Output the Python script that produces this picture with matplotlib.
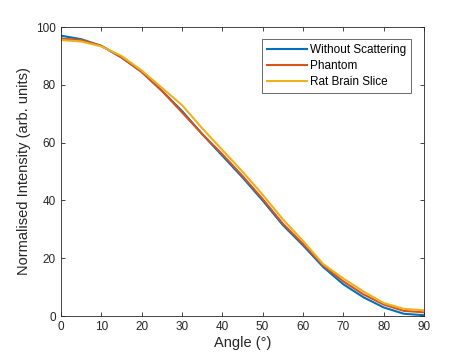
import matplotlib
matplotlib.use("Agg")
import matplotlib.pyplot as plt

angles = [0, 5, 10, 15, 20, 25, 30, 35, 40, 45, 50, 55, 60, 65, 70, 75, 80, 85, 90]
without_scattering = [97, 95.8, 93.5, 89.5, 84.5, 78, 71, 63, 55.5, 48, 40, 31.5, 24.5, 17, 11, 6.5, 3, 0.8, 0.3]
phantom = [96, 95.5, 93.5, 89.5, 84.5, 78, 70.5, 63, 56, 48.5, 40.5, 32, 25, 17.5, 12, 7.5, 4, 1.8, 1.3]
rat_brain = [95.5, 95, 93.3, 90, 85, 79, 73, 65, 57.5, 50, 42, 33.5, 26, 18, 13, 8.5, 4.5, 2.5, 2]

plt.rcParams['font.family'] = ['Liberation Sans', 'DejaVu Sans']
fig = plt.figure(figsize=(4.68, 3.6), dpi=100)
ax = fig.add_axes([0.130, 0.122, 0.776, 0.803])
ax.plot(angles, without_scattering, color='#0072BD', lw=1.5, label='Without Scattering')
ax.plot(angles, phantom, color='#D95319', lw=1.5, label='Phantom')
ax.plot(angles, rat_brain, color='#EDB120', lw=1.5, label='Rat Brain Slice')
ax.set_xlim(0, 90)
ax.set_ylim(0, 100)
ax.set_xticks(range(0, 91, 10))
ax.set_yticks(range(0, 101, 20))
for s in ax.spines.values():
    s.set_color('#262626')
    s.set_linewidth(0.6)
ax.tick_params(direction='in', length=3, width=0.6, colors='#262626', labelsize=8.5, top=True, right=True)
ax.set_xlabel('Angle (°)', fontsize=10.5, color='#262626', labelpad=2)
ax.set_ylabel('Normalised Intensity (arb. units)', fontsize=10.5, color='#262626', labelpad=4)
leg = ax.legend(loc='upper right', bbox_to_anchor=(0.964, 0.958), borderaxespad=0,
                fontsize=8.5, frameon=True, fancybox=False, edgecolor='#262626',
                handlelength=3.4, labelspacing=0.35, handletextpad=0.25, borderpad=0.4)
leg.get_frame().set_linewidth(0.6)
fig.savefig('out.png', dpi=100)
